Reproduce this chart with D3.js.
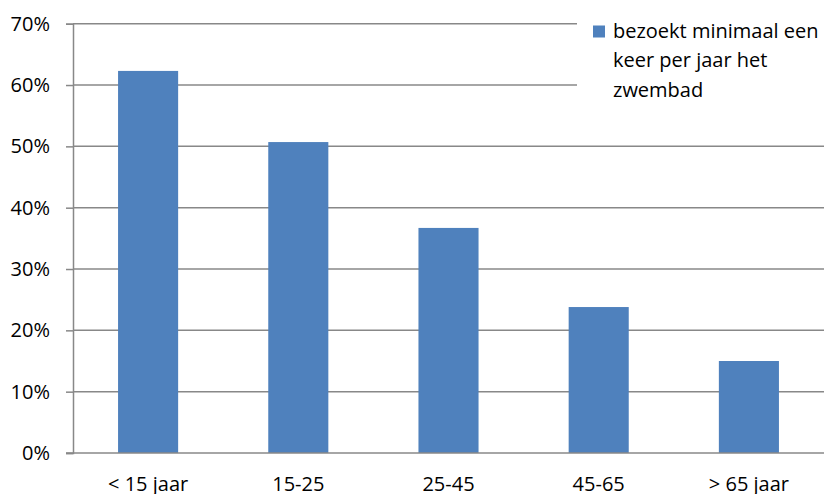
<!DOCTYPE html>
<html>
<head>
<meta charset="utf-8">
<style>
  body { margin: 0; background: #fff; }
  text { font-family: "Open Sans", "Liberation Sans", sans-serif; fill: #000; }
</style>
</head>
<body>
<svg id="chart" width="829" height="494"></svg>
<script src="https://d3js.org/d3.v7.min.js"></script>
<script>
    const categories = ['< 15 jaar', '15-25', '25-45', '45-65', '> 65 jaar']
    const values = [62.3, 50.7, 36.7, 23.8, 15.0]
    const yTicks = [0, 10, 20, 30, 40, 50, 60, 70]
    const legendLines = ['bezoekt minimaal een', 'keer per jaar het', 'zwembad']

    const plotLeft = 73, plotRight = 824, plotTop = 23.7, plotBottom = 453
    let svg = d3.select('#chart')

    let x = d3.scaleBand()
        .domain(categories)
        .range([plotLeft, plotRight])
        .paddingInner(0.6)
        .paddingOuter(0.3)

    let y = d3.scaleLinear().domain([0, 70]).range([plotBottom, plotTop])

    // gridlines
    svg.append('g').selectAll('line')
        .data(yTicks.filter(d => d > 0))
        .join('line')
        .attr('x1', plotLeft).attr('x2', plotRight)
        .attr('y1', d => y(d)).attr('y2', d => y(d))
        .attr('stroke', '#888').attr('stroke-width', 1.5)

    // bars
    svg.append('g').selectAll('rect')
        .data(values)
        .join('rect')
        .attr('x', (d, i) => x(categories[i]))
        .attr('width', x.bandwidth())
        .attr('y', d => y(d))
        .attr('height', d => y(0) - y(d))
        .attr('fill', '#4F81BD')

    // y axis
    let yAxis = svg.append('g')
        .attr('transform', `translate(${plotLeft},0)`)
        .call(d3.axisLeft(y).tickValues(yTicks).tickFormat(d => d + '%').tickSize(7).tickPadding(16))
    yAxis.select('.domain').attr('stroke', '#888').attr('stroke-width', 1.5)
    yAxis.selectAll('.tick line').attr('stroke', '#888').attr('stroke-width', 1.5)
    yAxis.selectAll('.tick text').attr('font-size', 20).attr('fill', '#000')
        .style('font-family', '"Open Sans", sans-serif')

    // x axis baseline
    svg.append('line')
        .attr('x1', plotLeft - 7).attr('x2', plotRight)
        .attr('y1', plotBottom).attr('y2', plotBottom)
        .attr('stroke', '#888').attr('stroke-width', 1.5)

    svg.append('g').selectAll('text')
        .data(categories)
        .join('text')
        .attr('x', d => x(d) + x.bandwidth() / 2)
        .attr('y', 491)
        .attr('text-anchor', 'middle')
        .attr('font-size', 20)
        .text(d => d)

    // legend
    let legend = svg.append('g')
    legend.append('rect')
        .attr('x', 577).attr('y', 0).attr('width', 252).attr('height', 110)
        .attr('fill', '#fff')
    legend.append('rect')
        .attr('x', 593).attr('y', 25.5).attr('width', 12).attr('height', 12)
        .attr('fill', '#4F81BD')
    legend.selectAll('text.lg')
        .data(legendLines)
        .join('text')
        .attr('class', 'lg')
        .attr('x', 613)
        .attr('y', (d, i) => 37.7 + i * 29.5)
        .attr('font-size', 20)
        .text(d => d)
</script>
</body>
</html>
